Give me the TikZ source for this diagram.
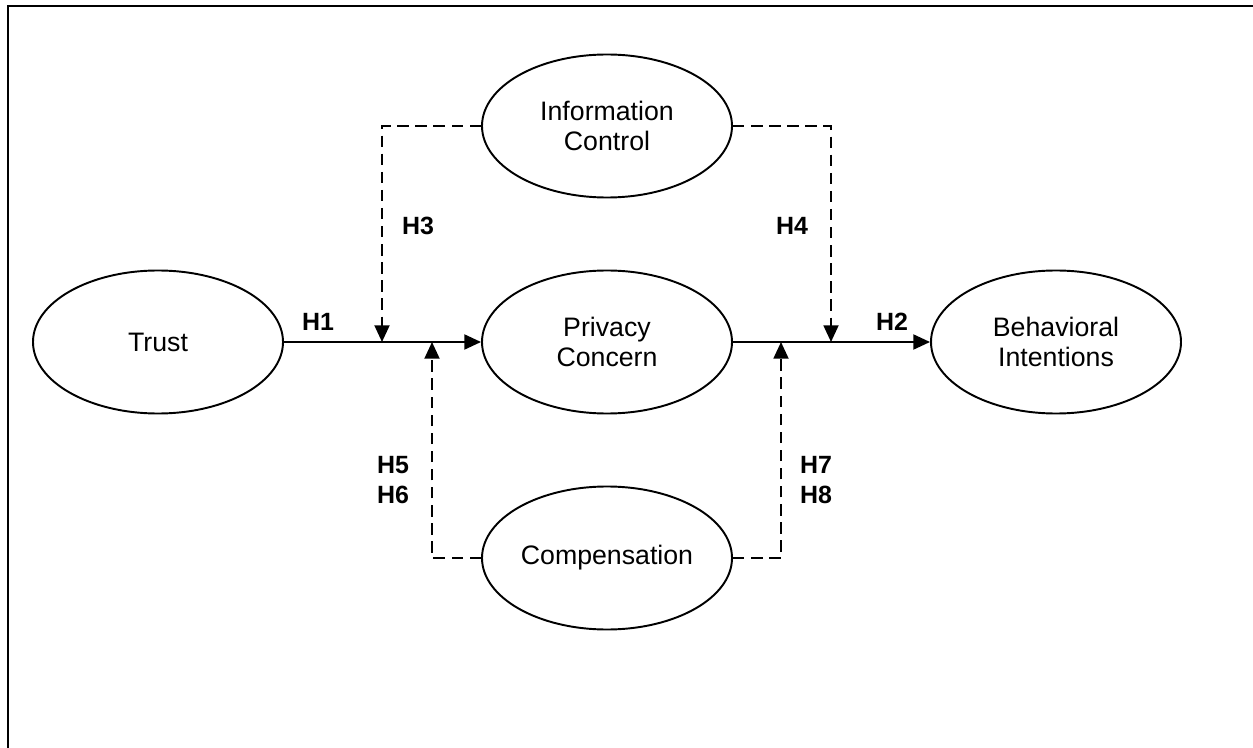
\documentclass[tikz,border=0pt]{standalone}
\usepackage{fontspec}
\setmainfont{Liberation Sans}
\usetikzlibrary{arrows.meta,shapes.geometric}
\begin{document}
\begin{tikzpicture}[
    construct/.style={draw, ellipse, line width=1.1pt, minimum width=5cm,
      minimum height=2.86cm, inner sep=0pt, align=center,
      font=\fontsize{15.2}{17}\selectfont},
    hyp/.style={font=\bfseries\fontsize{14.2}{17.5}\selectfont, align=left},
    mainpath/.style={line width=1.2pt, -{Triangle[length=9.5pt,width=8.5pt]}},
    moderate/.style={line width=1.2pt, dash pattern=on 6.5pt off 3.8pt,
      -{Triangle[length=9.5pt,width=8.5pt]}}]
      \clip (0,0) rectangle (25.06,-14.96);
      \draw[line width=1.5pt] (0.16,-0.12) rectangle (26,-16);
      \draw
        (3.16,-6.84) node[construct] (trust){Trust}
        (12.14,-6.84) node[construct] (pc){Privacy\\Concern}
        (21.12,-6.84) node[construct] (bi){Behavioral\\Intentions}
        (12.14,-2.52) node[construct] (ic){Information\\Control}
        (12.14,-11.16) node[construct] (comp){Compensation};
      \coordinate (j3) at (7.64,-6.84);
      \coordinate (j4) at (16.62,-6.84);
      \coordinate (j5) at (8.64,-6.84);
      \coordinate (j7) at (15.62,-6.84);
      \begin{scope}
        \draw[mainpath] (trust) to (pc);
        \draw[mainpath] (pc) to (bi);
        \draw[moderate] (ic.west) -| (j3);
        \draw[moderate] (ic.east) -| (j4);
        \draw[moderate] (comp.west) -| (j5);
        \draw[moderate] (comp.east) -| (j7);
      \end{scope}
      \draw
        (6.36,-6.44) node[hyp] (h1){H1}
        (17.84,-6.44) node[hyp] (h2){H2}
        (8.36,-4.52) node[hyp] (h3){H3}
        (15.84,-4.52) node[hyp] (h4){H4}
        (7.86,-9.6) node[hyp] (h56){H5\\H6}
        (16.32,-9.6) node[hyp] (h78){H7\\H8};
    \end{tikzpicture}
\end{document}
